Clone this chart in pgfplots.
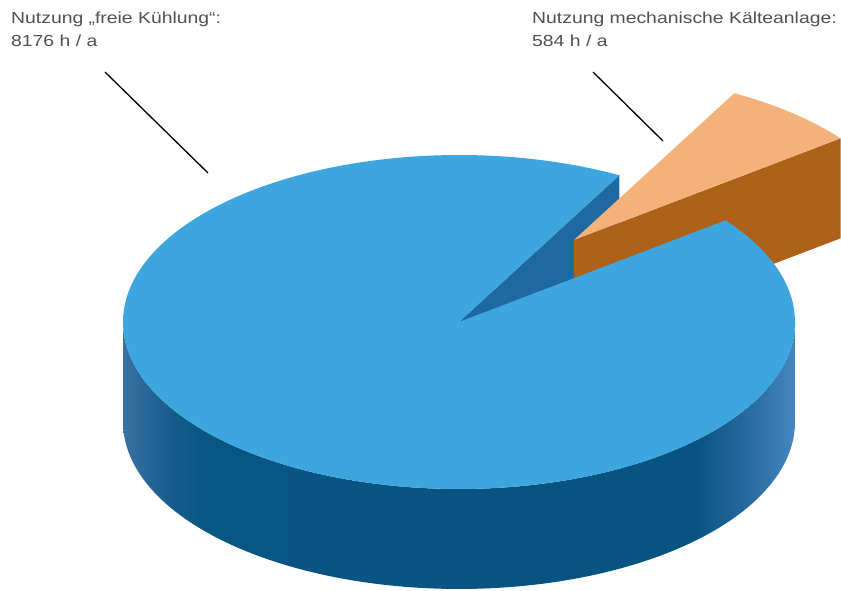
\documentclass[border=0pt]{standalone}
\usepackage{fontspec}
\setmainfont{Liberation Sans}
\newfontfamily\labfont[FakeStretch=1.21]{Liberation Sans}
\usepackage{pgfplots}
\pgfplotsset{compat=1.18}
\definecolor{topblue}{HTML}{3DA6DE}
\definecolor{cutblue}{HTML}{1F69A2}
\definecolor{orangetop}{HTML}{F4B27B}
\definecolor{brownface}{HTML}{AD6119}
\definecolor{labgray}{HTML}{505050}
\pgfdeclarehorizontalshading{sideshade}{100bp}{%
  color(0bp)=(rgb,255:red,58;green,114;blue,163);
  color(25bp)=(rgb,255:red,58;green,114;blue,163);
  color(28.5bp)=(rgb,255:red,22;green,92;blue,140);
  color(31bp)=(rgb,255:red,8;green,86;blue,131);
  color(67.5bp)=(rgb,255:red,7;green,83;blue,129);
  color(71.5bp)=(rgb,255:red,40;green,107;blue,158);
  color(75bp)=(rgb,255:red,69;green,134;blue,192);
  color(100bp)=(rgb,255:red,69;green,134;blue,192)}
\begin{document}
\begin{tikzpicture}
% data (hours per year)
\pgfmathsetmacro{\vFree}{8176}
\pgfmathsetmacro{\vMech}{584}
\pgfmathsetmacro{\frac}{\vMech/(\vFree+\vMech)}
\pgfmathsetmacro{\sweep}{360*\frac}
\pgfmathsetmacro{\tMid}{49.5}
\pgfmathsetmacro{\tA}{\tMid-\sweep/2}
\pgfmathsetmacro{\tB}{\tMid+\sweep/2}
\pgfmathsetmacro{\tE}{\tA+360}
\def\cx{459}\def\cy{322}\def\ra{336}\def\rb{167}\def\dep{100}
\def\sx{574}\def\sy{240}
\pgfmathsetmacro{\cyd}{\cy+\dep}
\pgfmathsetmacro{\syd}{\sy+\dep}
\pgfmathsetmacro{\qx}{\cx+\ra*cos(\tB)}
\pgfmathsetmacro{\qy}{\cy-\rb*sin(\tB)}
\pgfmathsetmacro{\qyd}{\qy+\dep}
\pgfmathsetmacro{\rx}{\sx+\ra*cos(\tA)}
\pgfmathsetmacro{\ry}{\sy-\rb*sin(\tA)}
\pgfmathsetmacro{\ryd}{\ry+\dep}
\begin{axis}[width=841pt,height=591pt,scale only axis,
  xmin=0,xmax=841,ymin=0,ymax=591,y dir=reverse,
  hide axis,no markers]
\path (axis cs:0,0) rectangle (axis cs:841,591);
% cut face of the large slice
\addplot[draw=none,fill=cutblue] coordinates {(\cx,\cy) (\qx,\qy) (\qx,\qyd) (\cx,\cyd)};
% small slice: radial face and top
\addplot[draw=none,fill=brownface] coordinates {(\sx,\sy) (\rx,\ry) (\rx,\ryd) (\sx,\syd)};
\addplot[draw=none,fill=orangetop,domain=\tA:\tB,samples=40]
  ({\sx+\ra*cos(x)},{\sy-\rb*sin(x)}) -- (axis cs:\sx,\sy) -- cycle;
% front side of the large slice
\addplot[draw=none,shade,shading=sideshade,domain=0:2,samples=201]
  ({\cx+\ra*cos((x<=1) ? (180+180*x) : (360-180*(x-1)))},
   {\cy-\rb*sin((x<=1) ? (180+180*x) : (360-180*(x-1))) + (x>1)*\dep});
% top of the large slice
\addplot[draw=none,fill=topblue,domain=\tB:\tE,samples=240]
  ({\cx+\ra*cos(x)},{\cy-\rb*sin(x)}) -- (axis cs:\cx,\cy) -- cycle;
% leader lines
\addplot[black,line width=1.3pt] coordinates {(105,72) (208,173)};
\addplot[black,line width=1.3pt] coordinates {(593,72) (663,141)};
% labels
\node[anchor=base west,inner sep=0pt,text=labgray,font=\labfont\fontsize{16}{19}\selectfont] at (axis cs:11,24) {Nutzung „freie Kühlung“:};
\node[anchor=base west,inner sep=0pt,text=labgray,font=\labfont\fontsize{16}{19}\selectfont] at (axis cs:11,47) {8176 h / a};
\node[anchor=base west,inner sep=0pt,text=labgray,font=\labfont\fontsize{16}{19}\selectfont] at (axis cs:532,24) {Nutzung mechanische Kälteanlage:};
\node[anchor=base west,inner sep=0pt,text=labgray,font=\labfont\fontsize{16}{19}\selectfont] at (axis cs:532,47) {584 h / a};
\end{axis}
\end{tikzpicture}
\end{document}
